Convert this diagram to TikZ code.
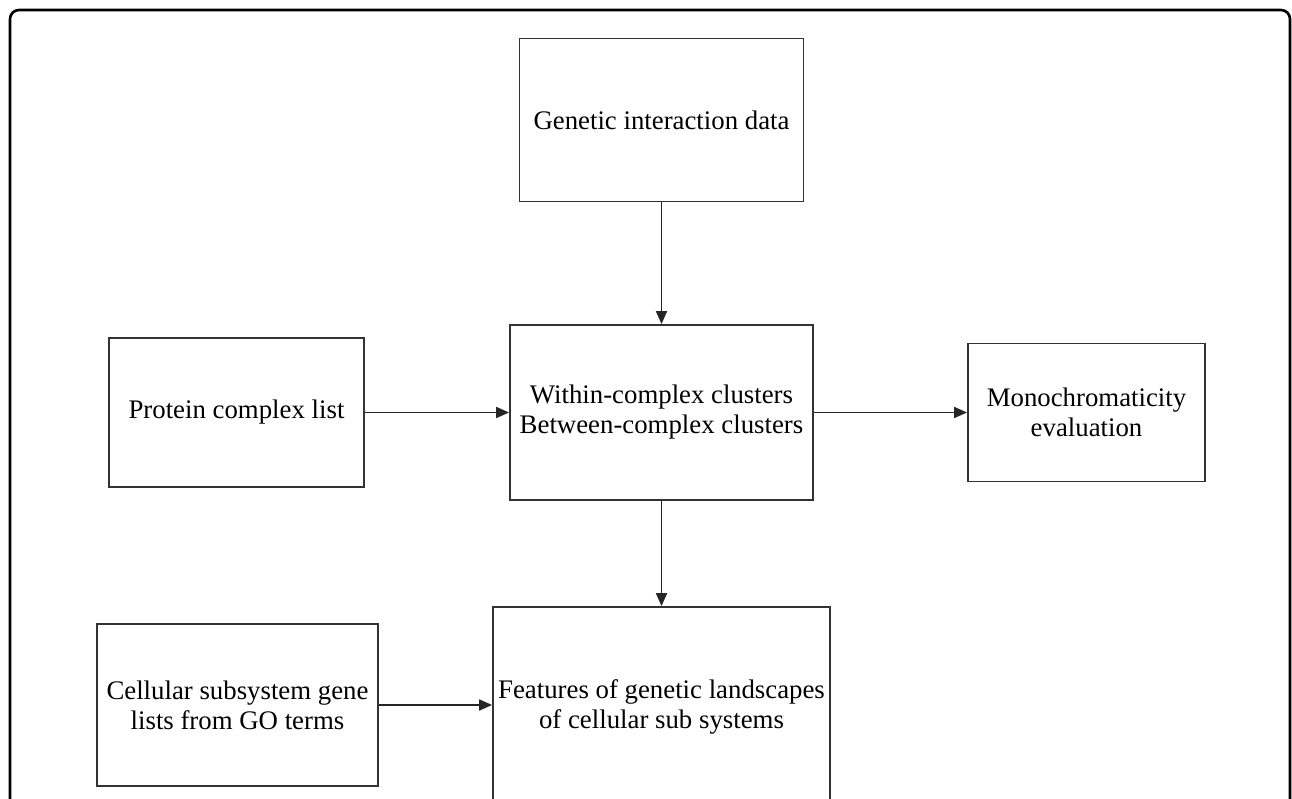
\documentclass[tikz,border=0pt]{standalone}
\usepackage{fontspec}
\setmainfont{Liberation Serif}
\usetikzlibrary{arrows.meta}

\begin{document}
\begin{tikzpicture}[x=1pt, y=-1pt,
    box/.style={draw=black!80, line width=1.8pt, align=center, inner sep=0pt,
        font=\fontsize{26.8}{30}\selectfont},
    flow/.style={draw=black!85, line width=1.8pt, -{Triangle[length=13pt, width=11pt]}}]
    \useasboundingbox (0,0) rectangle (1292,799);
    \clip (0,0) rectangle (1292,799);
    % outer frame
    \draw[line width=2.6pt, rounded corners=9pt] (10,830) -- (10,10) -- (1290,10) -- (1290,830);
    \pgfmathsetmacro\mx{661.5}
    \pgfmathsetmacro\my{412.5}
    \node[box, minimum width=284, minimum height=163] (gen) at (\mx,120) {Genetic interaction data};
    \node[box, minimum width=303, minimum height=175] (clus) at (\mx,\my) {Within-complex clusters\\Between-complex clusters};
    \node[box, minimum width=255, minimum height=149] (prot) at (236.5,\my) {Protein complex list};
    \node[box, minimum width=237, minimum height=138] (mono) at (1086.5,\my) {Monochromaticity\\evaluation};
    \node[box, minimum width=337, minimum height=200] (feat) at (\mx,707) {Features of genetic landscapes\\of cellular sub systems};
    \node[box, minimum width=281, minimum height=162] (cell) at (237.5,705) {Cellular subsystem gene\\lists from GO terms};
    \draw[flow] (gen) -- (clus);
    \draw[flow] (prot) -- (clus);
    \draw[flow] (clus) -- (mono);
    \draw[flow] (clus) -- (feat);
    \draw[flow] (cell.east) -- (cell.east -| feat.west);
\end{tikzpicture}
\end{document}
